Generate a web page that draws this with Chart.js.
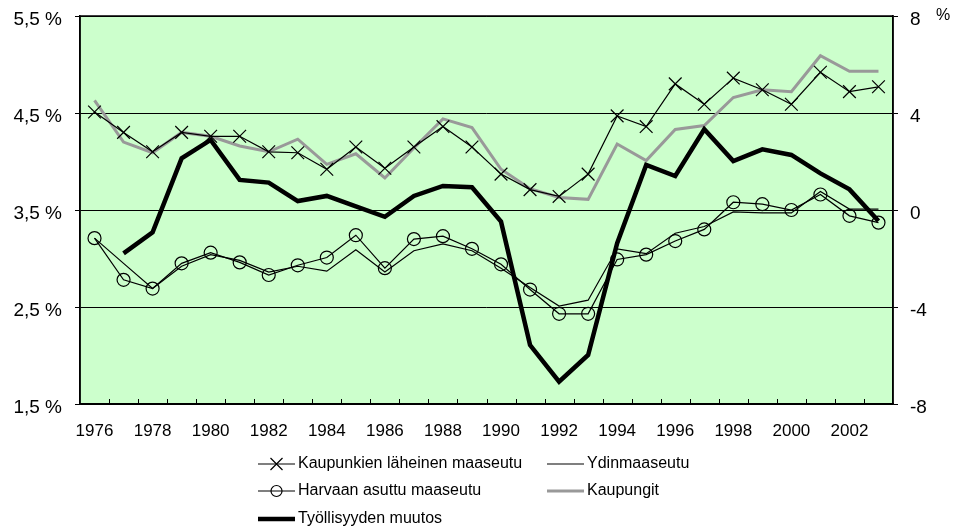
<!DOCTYPE html>
<html>
<head>
<meta charset="utf-8">
<script src="https://cdn.jsdelivr.net/npm/chart.js@4/dist/chart.umd.min.js"></script>
<style>
  html, body { margin: 0; padding: 0; background: #fff; }
  #wrap { width: 956px; height: 530px; position: relative; }
</style>
</head>
<body>
<div id="wrap"><canvas id="chart"></canvas></div>
<script>
// vuodet (x-akseli)
const years = ['1976', '1977', '1978', '1979', '1980', '1981', '1982', '1983', '1984', '1985',
  '1986', '1987', '1988', '1989', '1990', '1991', '1992', '1993', '1994', '1995',
  '1996', '1997', '1998', '1999', '2000', '2001', '2002', '2003'];

// vasen akseli, %
const kaupunkienLaheinen = [4.51, 4.30, 4.10, 4.30, 4.26, 4.26, 4.10, 4.09, 3.92, 4.15,
  3.93, 4.15, 4.36, 4.15, 3.87, 3.71, 3.64, 3.87, 4.47, 4.36,
  4.80, 4.59, 4.86, 4.74, 4.59, 4.92, 4.72, 4.77];
const ydinmaaseutu = [3.21, 2.95, 2.69, 2.92, 3.04, 2.98, 2.86, 2.92, 2.87, 3.09,
  2.86, 3.08, 3.15, 3.08, 2.90, 2.70, 2.51, 2.57, 3.10, 3.05,
  3.26, 3.33, 3.48, 3.47, 3.47, 3.69, 3.51, 3.51];
const harvaanAsuttu = [3.21, 2.78, 2.69, 2.95, 3.06, 2.96, 2.83, 2.93, 3.01, 3.24,
  2.90, 3.20, 3.23, 3.10, 2.94, 2.68, 2.43, 2.43, 2.99, 3.04,
  3.18, 3.30, 3.58, 3.56, 3.50, 3.66, 3.44, 3.37];
const kaupungit = [4.63, 4.20, 4.09, 4.30, 4.26, 4.16, 4.10, 4.23, 3.97, 4.08,
  3.83, 4.14, 4.44, 4.35, 3.92, 3.72, 3.63, 3.61, 4.18, 4.01,
  4.33, 4.37, 4.66, 4.74, 4.72, 5.09, 4.93, 4.93];

// oikea akseli, työllisyyden muutos %
const tyollisyydenMuutos = [null, -1.79, -0.92, 2.13, 2.89, 1.24, 1.13, 0.37, 0.58, 0.15,
  -0.28, 0.58, 0.99, 0.94, -0.48, -5.57, -7.08, -5.98, -1.37, 1.86,
  1.40, 3.33, 2.02, 2.50, 2.27, 1.51, 0.85, -0.45];

// akselien asetukset
const leftMin = 1.5, leftMax = 5.5, leftStep = 1;
const rightMin = -8, rightMax = 8, rightStep = 4;

const FONT = 'Arial, "Liberation Sans", sans-serif';

// tausta, kehys, sisäpuoliset x-jaot, selite ja %-merkki
const decorPlugin = {
  id: 'decor',
  beforeDraw(chart) {
    const { ctx, chartArea: a } = chart;
    ctx.save();
    ctx.fillStyle = '#fff';
    ctx.fillRect(0, 0, chart.width, chart.height);
    ctx.fillStyle = '#CCFFCC';
    ctx.fillRect(a.left, a.top, a.right - a.left, a.bottom - a.top);
    ctx.restore();
  },
  afterDraw(chart) {
    const { ctx, chartArea: a } = chart;
    const x = chart.scales.x;
    ctx.save();
    // x-akselin jakoviivat sisäänpäin
    ctx.strokeStyle = '#000';
    ctx.lineWidth = 1;
    ctx.beginPath();
    for (let i = 1; i < years.length; i++) {
      const px = Math.round((x.getPixelForValue(i - 1) + x.getPixelForValue(i)) / 2) + 0.5;
      ctx.moveTo(px, a.bottom);
      ctx.lineTo(px, a.bottom - 5);
    }
    ctx.stroke();
    // kehys
    ctx.lineWidth = 1.5;
    ctx.strokeRect(a.left, a.top, a.right - a.left, a.bottom - a.top);

    // oikean akselin yksikkö
    ctx.fillStyle = '#000';
    ctx.font = '16px ' + FONT;
    ctx.textBaseline = 'middle';
    ctx.textAlign = 'left';
    ctx.fillText('%', 936, 16);

    // selite
    const slots = [[258, 464], [547, 464], [258, 491], [547, 491], [258, 519]];
    const sets = chart.data.datasets;
    ctx.font = '16px ' + FONT;
    sets.forEach((ds, k) => {
      const [lx, ly] = slots[k];
      ctx.strokeStyle = ds.borderColor;
      ctx.lineWidth = ds.borderWidth;
      ctx.beginPath();
      ctx.moveTo(lx, ly);
      ctx.lineTo(lx + 37, ly);
      ctx.stroke();
      const cx = lx + 18.5;
      ctx.lineWidth = 1.2;
      ctx.strokeStyle = '#000';
      if (ds.pointStyle === 'crossRot' && ds.pointRadius > 0) {
        const r = 6;
        ctx.beginPath();
        ctx.moveTo(cx - r, ly - r); ctx.lineTo(cx + r, ly + r);
        ctx.moveTo(cx + r, ly - r); ctx.lineTo(cx - r, ly + r);
        ctx.stroke();
      } else if (ds.pointStyle === 'circle' && ds.pointRadius > 0) {
        ctx.beginPath();
        ctx.arc(cx, ly, 5.5, 0, Math.PI * 2);
        ctx.stroke();
      }
      ctx.fillStyle = '#000';
      ctx.textAlign = 'left';
      ctx.fillText(ds.label, lx + 40, ly);
    });
    ctx.restore();
  }
};

// y-akselit: kiinteä leveys, ei ylimääräistä pystytilaa nimikkeille
const fitY = (w) => (s) => {
  s.width = w;
  s.paddingTop = 0;
  s.paddingBottom = 0;
};

new Chart(document.getElementById('chart'), {
  type: 'line',
  data: {
    labels: years,
    datasets: [
      {
        label: 'Kaupunkien läheinen maaseutu',
        data: kaupunkienLaheinen,
        yAxisID: 'y',
        borderColor: '#000',
        borderWidth: 1.2,
        pointStyle: 'crossRot',
        pointRadius: 9,
        pointBorderWidth: 1.2,
        pointBorderColor: '#000',
        order: 1
      },
      {
        label: 'Ydinmaaseutu',
        data: ydinmaaseutu,
        yAxisID: 'y',
        borderColor: '#000',
        borderWidth: 1.2,
        pointRadius: 0,
        order: 3
      },
      {
        label: 'Harvaan asuttu maaseutu',
        data: harvaanAsuttu,
        yAxisID: 'y',
        borderColor: '#000',
        borderWidth: 1.2,
        pointStyle: 'circle',
        pointRadius: 6.5,
        pointBorderWidth: 1.2,
        pointBorderColor: '#000',
        pointBackgroundColor: 'rgba(0,0,0,0)',
        order: 2
      },
      {
        label: 'Kaupungit',
        data: kaupungit,
        yAxisID: 'y',
        borderColor: '#999999',
        borderWidth: 3,
        pointRadius: 0,
        order: 4
      },
      {
        label: 'Työllisyyden muutos',
        data: tyollisyydenMuutos,
        yAxisID: 'y1',
        borderColor: '#000',
        borderWidth: 4.5,
        pointRadius: 0,
        borderJoinStyle: 'miter',
        order: 0
      }
    ]
  },
  options: {
    responsive: true,
    maintainAspectRatio: false,
    animation: false,
    events: [],
    elements: { line: { tension: 0, fill: false } },
    layout: { padding: { top: 16, bottom: 86, left: 0, right: 0 } },
    plugins: {
      legend: { display: false },
      tooltip: { enabled: false }
    },
    scales: {
      x: {
        offset: true,
        grid: { display: true, drawOnChartArea: false, drawTicks: false, offset: true },
        border: { color: '#000', width: 1.5 },
        ticks: {
          autoSkip: false,
          maxRotation: 0,
          padding: 17,
          color: '#000',
          font: { family: FONT, size: 17 },
          callback: (v, i) => (i % 2 === 0 ? years[i] : '')
        },
        afterFit: (s) => { s.height = 40; s.paddingLeft = 0; s.paddingRight = 0; }
      },
      y: {
        position: 'left',
        min: leftMin,
        max: leftMax,
        grid: { color: '#000', lineWidth: 1, tickLength: 5 },
        border: { color: '#000', width: 1.5 },
        ticks: {
          stepSize: leftStep,
          padding: 13,
          labelOffset: 4,
          color: '#000',
          font: { family: FONT, size: 19 },
          callback: (v) => v.toFixed(1).replace('.', ',') + ' %'
        },
        afterFit: fitY(80)
      },
      y1: {
        position: 'right',
        min: rightMin,
        max: rightMax,
        grid: { drawOnChartArea: false, color: '#000', tickLength: 5 },
        border: { color: '#000', width: 1.5 },
        ticks: {
          stepSize: rightStep,
          padding: 12,
          labelOffset: 4,
          color: '#000',
          font: { family: FONT, size: 19 }
        },
        afterFit: fitY(63)
      }
    }
  },
  plugins: [decorPlugin]
});
</script>
</body>
</html>
